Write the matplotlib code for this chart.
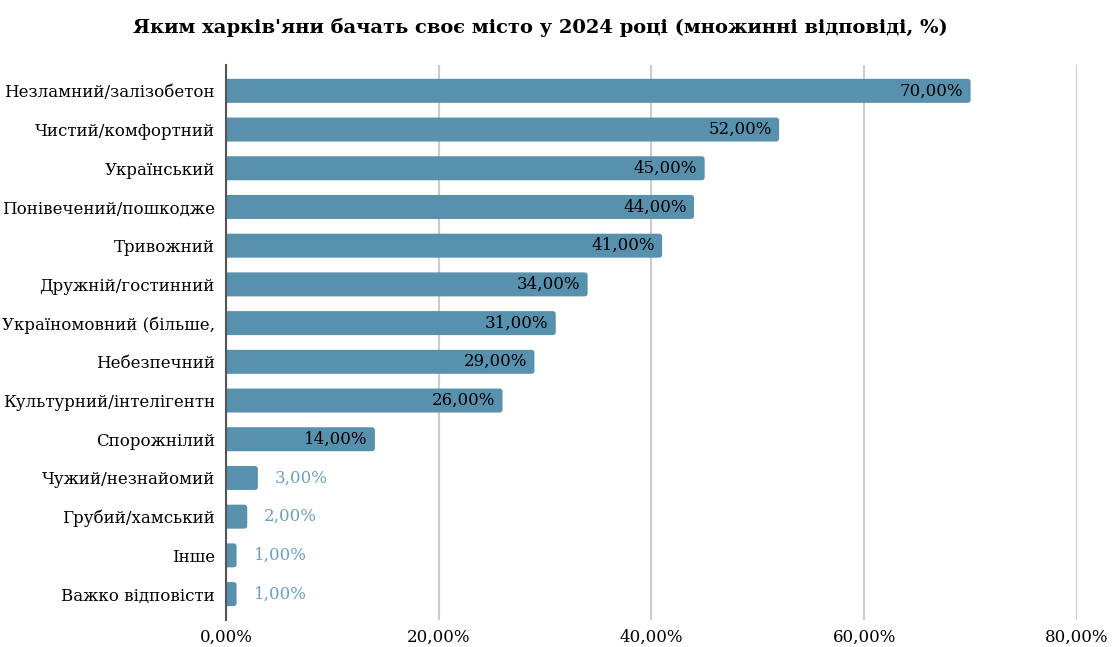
import matplotlib
matplotlib.use("Agg")
import matplotlib.pyplot as plt
from matplotlib.patches import FancyBboxPatch
from matplotlib.ticker import FuncFormatter

plt.rcParams['font.family'] = ['DejaVu Serif']

categories = ['Незламний/залізобетон', 'Чистий/комфортний', 'Український',
              'Понівечений/пошкодже', 'Тривожний', 'Дружній/гостинний',
              'Україномовний (більше,', 'Небезпечний', 'Культурний/інтелігентн',
              'Спорожнілий', 'Чужий/незнайомий', 'Грубий/хамський', 'Інше',
              'Важко відповісти']
values = [70, 52, 45, 44, 41, 34, 31, 29, 26, 14, 3, 2, 1, 1]
ticks = [0, 20, 40, 60, 80]

bar_color = '#5891ae'
out_color = '#6c9fbd'

fig = plt.figure(figsize=(11.12, 6.47), dpi=100)
ax = fig.add_axes([0.2032, 0.0417, 0.7653, 0.858])

ypos = list(range(len(categories)))
bars = ax.barh(ypos, values, height=0.62, color=bar_color)

# swap plain rectangles for ones with rounded ends
for b in bars:
    b.set_visible(False)
    x0, y0 = b.get_x(), b.get_y()
    w, h = b.get_width(), b.get_height()
    p = FancyBboxPatch((x0 - 0.6, y0), w + 0.6, h,
                       boxstyle='round,pad=0,rounding_size=0.3',
                       mutation_aspect=0.26, fc=bar_color, ec='none', zorder=2)
    ax.add_patch(p)

for y, v in zip(ypos, values):
    txt = f'{v:.2f}%'.replace('.', ',')
    if v >= 10:
        ax.text(v - 0.7, y, txt, ha='right', va='center', fontsize=12,
                color='black', zorder=3)
    else:
        ax.text(v + 1.6, y, txt, ha='left', va='center', fontsize=12,
                color=out_color, zorder=3)

ax.set_xlim(0, 80)
ax.set_ylim(len(categories) - 1 + 0.67, -0.67)
ax.set_yticks(ypos)
ax.set_yticklabels(categories, fontsize=12)
ax.set_xticks(ticks)
ax.xaxis.set_major_formatter(FuncFormatter(lambda v, p: f'{v:.2f}%'.replace('.', ',')))
ax.tick_params(axis='x', labelsize=12, length=0, pad=6)
ax.tick_params(axis='y', length=0, pad=8)
ax.grid(axis='x', color='#cccccc', lw=1.5, zorder=0)
ax.set_axisbelow(True)
for s in ['top', 'right', 'bottom']:
    ax.spines[s].set_visible(False)
ax.spines['left'].set_color('#555555')
ax.spines['left'].set_linewidth(1.5)
ax.spines['left'].set_zorder(4)

fig.text(0.486, 0.957, "Яким харків'яни бачать своє місто у 2024 році (множинні відповіді, %)",
         ha='center', va='center', fontsize=14, fontweight='bold')

fig.savefig('out.png', dpi=100)
